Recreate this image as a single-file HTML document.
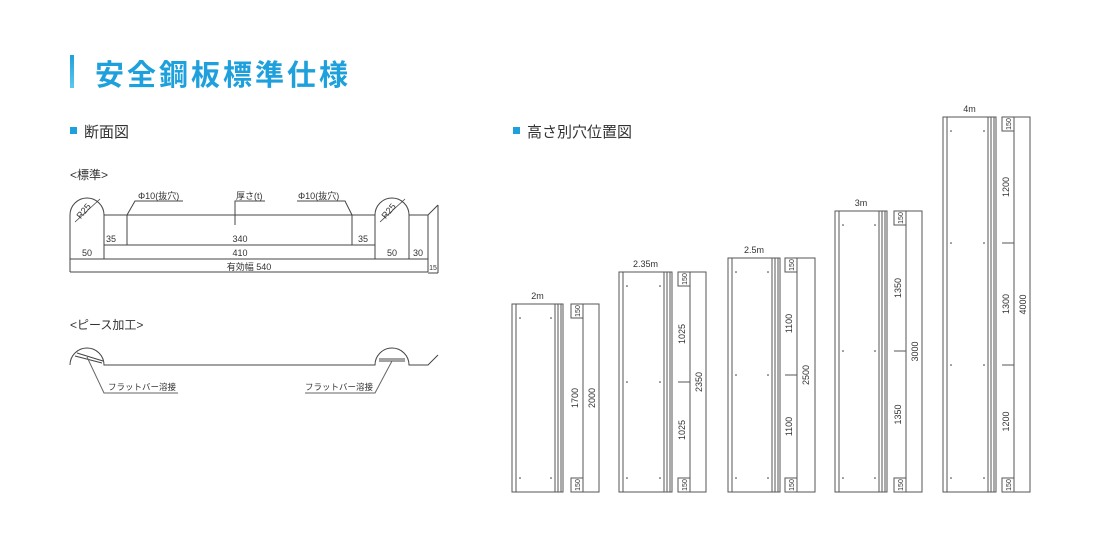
<!DOCTYPE html>
<html><head><meta charset="utf-8"><style>
html,body{margin:0;padding:0;background:#fff;}
svg{display:block;font-family:"Liberation Sans","Noto Sans CJK JP",sans-serif;}
</style></head><body>
<svg id="s" width="1100" height="547" viewBox="0 0 1100 547" xmlns="http://www.w3.org/2000/svg">
<defs><linearGradient id="g" x1="0" y1="0" x2="0" y2="1"><stop offset="0" stop-color="#1ea0dc"/><stop offset="1" stop-color="#5cc8f0"/></linearGradient></defs>
<rect x="70" y="55" width="4" height="33" fill="url(#g)"/>
<text x="95" y="85" font-size="29" font-weight="bold" fill="#1ea0dc" font-family="'Noto Sans CJK JP',sans-serif" letter-spacing="3">安全鋼板標準仕様</text>
<rect x="70" y="127" width="7" height="7" fill="#1ea0dc"/>
<text x="84" y="137" font-size="15" fill="#333" font-family="'Noto Sans CJK JP',sans-serif">断面図</text>
<rect x="513" y="127" width="7" height="7" fill="#1ea0dc"/>
<text x="527" y="137" font-size="15" fill="#333" font-family="'Noto Sans CJK JP',sans-serif">高さ別穴位置図</text>
<text x="70" y="179" font-size="12" fill="#333">&lt;標準&gt;</text>
<text x="70" y="329" font-size="12" fill="#333">&lt;ピース加工&gt;</text>
<g fill="none" stroke="#444" stroke-width="1">
<path d="M70 215 A17 17 0 0 1 104 215 L375 215 A17 17 0 0 1 409 215 L428 215 L438 205"/>
<path d="M70 215 V272 M104 215 V259 M375 215 V259 M409 215 V259 M428 215 V272 M438 205 V273 M428 273 H438"/>
<path d="M104 245 H375 M70 259 H428 M70 272 H428 M127 215 V245 M352 215 V245"/>
<path d="M127 215 L135 201 H183 M235 225 V201 H265 M297 201 H345 L352 215"/>
<path d="M75 222 L100 199 M380 222 L405 199" stroke-width="0.8"/>
<path d="M70 365 A17 17 0 0 1 104 365 L375 365 A17 17 0 0 1 409 365 L428 365 L438 355"/>
<path d="M75 356 L102 363 M77 353 L103 361 M379 359 L405 359 M379 361 L405 361"/>
<path d="M87 357 L104 393 H178 M305 393 H375 L392 361" stroke="#666"/>
</g>
<g font-size="9" fill="#333">
<text x="138" y="199">Φ10(抜穴)</text>
<text x="236" y="199">厚さ(t)</text>
<text x="298" y="199">Φ10(抜穴)</text>
<text x="106" y="242">35</text><text x="240" y="242" text-anchor="middle">340</text><text x="358" y="242">35</text>
<text x="87" y="256" text-anchor="middle">50</text><text x="240" y="256" text-anchor="middle">410</text><text x="392" y="256" text-anchor="middle">50</text><text x="418" y="256" text-anchor="middle">30</text>
<text x="249" y="270" text-anchor="middle">有効幅 540</text>
<text x="433" y="270" text-anchor="middle" font-size="7">15</text>
<text x="86" y="213" transform="rotate(-50 86 213)" text-anchor="middle" font-size="9">R25</text>
<text x="391" y="213" transform="rotate(-50 391 213)" text-anchor="middle" font-size="9">R25</text>
<text x="108" y="390" font-size="8.5">フラットバー溶接</text>
<text x="305" y="390" font-size="8.5">フラットバー溶接</text>
</g>
<g id="panels"></g>
</svg>
<script>
var P=[
 {x0:512,x1:563,top:304,dl:583,out:599,lab:"2m",mids:[],segs:["1700"],tot:"2000"},
 {x0:619,x1:672,top:272,dl:690,out:706,lab:"2.35m",mids:[382],segs:["1025","1025"],tot:"2350"},
 {x0:728,x1:780,top:258,dl:797,out:815,lab:"2.5m",mids:[375],segs:["1100","1100"],tot:"2500"},
 {x0:835,x1:887,top:211,dl:906,out:922,lab:"3m",mids:[351],segs:["1350","1350"],tot:"3000"},
 {x0:943,x1:996,top:117,dl:1014,out:1030,lab:"4m",mids:[243,365],segs:["1200","1300","1200"],tot:"4000"}
];
var h="",B=492;
P.forEach(function(p){
 var c=(p.x0+p.x1)/2;
 h+='<g fill="none" stroke="#555" stroke-width="1">';
 h+='<rect x="'+p.x0+'" y="'+p.top+'" width="'+(p.x1-p.x0)+'" height="'+(B-p.top)+'"/>';
 [p.x0+4,p.x1-8,p.x1-5,p.x1-2].forEach(function(x){h+='<line x1="'+x+'" y1="'+p.top+'" x2="'+x+'" y2="'+B+'"/>';});
 h+='<rect x="'+p.dl+'" y="'+p.top+'" width="'+(p.out-p.dl)+'" height="'+(B-p.top)+'"/>';
 h+='<rect x="'+(p.dl-12)+'" y="'+p.top+'" width="12" height="14"/>';
 h+='<rect x="'+(p.dl-12)+'" y="'+(B-14)+'" width="12" height="14"/>';
 p.mids.forEach(function(y){h+='<line x1="'+(p.dl-12)+'" y1="'+y+'" x2="'+p.dl+'" y2="'+y+'"/>';});
 h+='</g>';
 var ys=[p.top+14].concat(p.mids).concat([B-14]);
 ys.forEach(function(y){h+='<circle cx="'+(p.x0+8)+'" cy="'+y+'" r="0.8" fill="#333"/><circle cx="'+(p.x1-12)+'" cy="'+y+'" r="0.8" fill="#333"/>';});
 h+='<text x="'+c+'" y="'+(p.top-5)+'" font-size="9" fill="#333" text-anchor="middle">'+p.lab+'</text>';
 var tx=p.dl-5;
 [[p.top+7,"150",7],[B-7,"150",7]].forEach(function(a){h+='<text transform="translate('+(p.dl-3)+','+a[0]+') rotate(-90)" font-size="'+a[2]+'" fill="#333" text-anchor="middle">'+a[1]+'</text>';});
 var b=[p.top+14].concat(p.mids).concat([B-14]);
 for(var i=0;i<p.segs.length;i++){var m=(b[i]+b[i+1])/2;h+='<text transform="translate('+tx+','+m+') rotate(-90)" font-size="9" fill="#333" text-anchor="middle">'+p.segs[i]+'</text>';}
 h+='<text transform="translate('+(p.dl+12)+','+((p.top+B)/2)+') rotate(-90)" font-size="9" fill="#333" text-anchor="middle">'+p.tot+'</text>';
});
document.getElementById("panels").innerHTML=h;
</script>
</body></html>
